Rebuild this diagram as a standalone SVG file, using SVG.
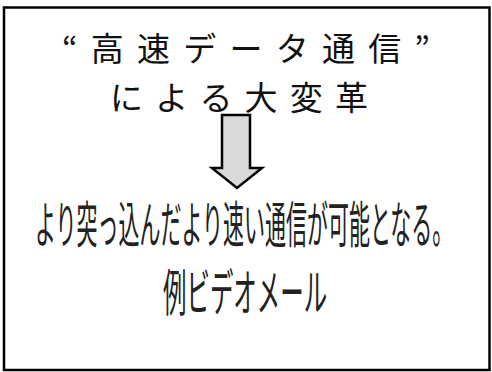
<svg xmlns="http://www.w3.org/2000/svg" width="492" height="372" viewBox="0 0 492 372">
<style>
.t{font-family:"Noto Sans CJK JP","Noto Sans",sans-serif;fill:#111}
.h{font-size:33px}
.b{font-size:50px;fill:#222}
</style>
<rect width="492" height="372" fill="#fff"/>
<g id="frame"><rect x="4" y="7.5" width="485.5" height="362.5" fill="none" stroke="#000" stroke-width="2.5"/></g>
<g id="title">
<text class="t h" x="62" y="61" textLength="368" lengthAdjust="spacing">“高速データ通信”</text>
<text class="t h" x="110" y="109.5" textLength="258" lengthAdjust="spacing">による大変革</text>
</g>
<g id="connectors">
<path d="M222,115 H250 V168 H262 L237,188 L212,168 H222 Z" fill="#d9d9d9" stroke="#000" stroke-width="2.5" stroke-linejoin="miter"/>
</g>
<g id="result">
<text class="t b" transform="translate(35,243) scale(0.42,1)" x="0" y="0">より突っ込んだより速い通信が可能となる。</text>
<text class="t b" transform="translate(163,311) scale(0.469,1)" x="0" y="0">例ビデオメール</text>
</g>
</svg>
